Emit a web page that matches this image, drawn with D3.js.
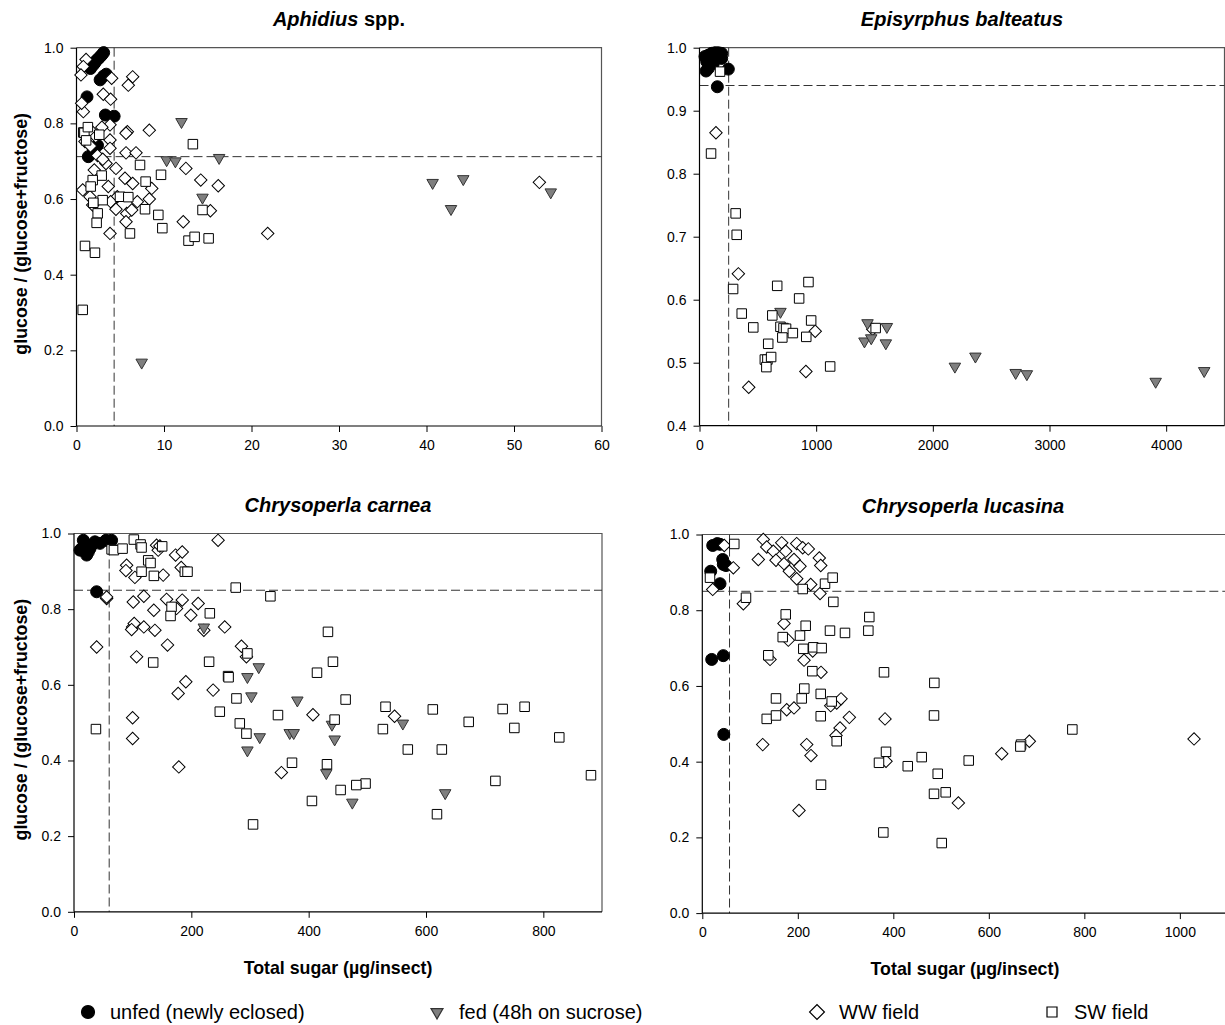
<!DOCTYPE html>
<html><head><meta charset="utf-8">
<script src="https://cdn.jsdelivr.net/npm/d3@7/dist/d3.min.js"></script>
<style>body{margin:0;background:#fff}svg{display:block}</style>
</head><body>
<svg id="chart" width="1225" height="1025"></svg>
<script>
// ---------------- DATA ----------------
const seriesNames = ["unfed (newly eclosed)", "fed (48h on sucrose)", "WW field", "SW field"];
const yAxisTitle = "glucose / (glucose+fructose)";
const xAxisTitle = "Total sugar (µg/insect)";

const xTicksAphidius = [0, 10, 20, 30, 40, 50, 60];
const yTicksAphidius = [0.0, 0.2, 0.4, 0.6, 0.8, 1.0];
const xTicksEpisyrphus = [0, 1000, 2000, 3000, 4000];
const yTicksEpisyrphus = [0.4, 0.5, 0.6, 0.7, 0.8, 0.9, 1.0];
const xTicksCarnea = [0, 200, 400, 600, 800];
const yTicksCarnea = [0.0, 0.2, 0.4, 0.6, 0.8, 1.0];
const xTicksLucasina = [0, 200, 400, 600, 800, 1000];
const yTicksLucasina = [0.0, 0.2, 0.4, 0.6, 0.8, 1.0];

// threshold lines [x, y]
const thresholdAphidius = [4.3, 0.712];
const thresholdEpisyrphus = [250, 0.940];
const thresholdCarnea = [60, 0.85];
const thresholdLucasina = [57, 0.85];

// ---- Aphidius spp. ----
const aphidiusUnfed = [[1.6,0.945],[1.9,0.954],[2.1,0.96],[2.3,0.967],[2.5,0.971],[2.7,0.976],[2.9,0.981],[3.1,0.987],[3.4,0.930],[3.1,0.925],[2.7,0.915],[1.2,0.870],[3.3,0.822],[4.3,0.819],[1.35,0.712],[1.9,0.733],[2.4,0.742]];
const aphidiusFed = [[12.0,0.804],[10.3,0.703],[11.3,0.700],[16.3,0.709],[14.4,0.604],[7.45,0.168],[40.7,0.643],[44.2,0.653],[42.8,0.574],[54.2,0.618]];
const aphidiusWW = [[1.09,0.969],[0.78,0.95],[0.51,0.928],[4.02,0.919],[6.42,0.923],[5.92,0.901],[3.06,0.877],[3.9,0.864],[0.78,0.831],[0.59,0.853],[3.83,0.796],[5.81,0.778],[8.32,0.782],[5.66,0.774],[0.97,0.752],[3.83,0.756],[5.66,0.722],[6.8,0.722],[3.83,0.734],[3.37,0.694],[4.51,0.681],[2.03,0.677],[12.5,0.681],[14.2,0.650],[16.2,0.635],[5.54,0.655],[6.42,0.641],[8.6,0.628],[8.32,0.600],[0.71,0.624],[1.54,0.606],[3.63,0.633],[4.66,0.606],[3.9,0.593],[1.85,0.584],[6.95,0.593],[4.51,0.573],[5.74,0.562],[6.31,0.571],[5.66,0.540],[12.2,0.540],[15.3,0.569],[3.83,0.509],[52.9,0.644],[21.85,0.509],[1.7,0.78],[2.2,0.765],[2.9,0.79],[1.6,0.74],[2.4,0.715],[3.0,0.705]];
const aphidiusSW = [[13.3,0.745],[7.26,0.690],[9.66,0.664],[2.88,0.662],[1.85,0.650],[7.9,0.646],[1.62,0.633],[2.99,0.597],[4.97,0.606],[5.92,0.605],[1.92,0.590],[2.42,0.562],[2.3,0.537],[7.83,0.573],[9.35,0.558],[14.4,0.571],[9.81,0.523],[6.11,0.509],[12.8,0.490],[13.5,0.500],[15.1,0.496],[0.97,0.476],[2.11,0.458],[0.71,0.307],[0.78,0.776],[0.9,0.775],[1.3,0.79],[1.1,0.755],[2.6,0.77]];

// ---- Episyrphus balteatus ----
const episyrphusUnfed = [[47,0.986],[75,0.988],[104,0.991],[133,0.992],[161,0.992],[190,0.991],[62,0.978],[90,0.981],[147,0.983],[56,0.963],[75,0.967],[118,0.975],[247,0.966],[153,0.938],[190,0.983]];
const episyrphusFed = [[694,0.581],[1440,0.563],[1414,0.534],[1472,0.539],[1606,0.557],[1597,0.531],[2189,0.494],[2365,0.510],[2710,0.484],[2806,0.482],[3910,0.470],[4326,0.487]];
const episyrphusWW = [[333,0.641],[422,0.461],[912,0.486],[992,0.550],[1485,0.553],[141,0.865]];
const episyrphusSW = [[288,0.617],[362,0.578],[461,0.556],[624,0.575],[666,0.622],[589,0.530],[560,0.505],[582,0.505],[614,0.509],[573,0.493],[694,0.557],[720,0.555],[742,0.554],[710,0.540],[800,0.547],[854,0.602],[934,0.628],[957,0.567],[915,0.541],[1120,0.494],[1510,0.555],[99,0.832],[176,0.962],[310,0.737],[319,0.703]];

// ---- Chrysoperla carnea ----
const carneaUnfed = [[13,0.960],[18.7,0.974],[24.4,0.951],[30.1,0.969],[21.6,0.943],[35.7,0.978],[44.3,0.974],[54.5,0.982],[64.1,0.982],[38.6,0.846],[15.9,0.982],[27.2,0.960],[10.2,0.956]];
const carneaFed = [[221.3,0.752],[314.9,0.647],[295.6,0.621],[302.4,0.570],[380.7,0.559],[367.7,0.473],[374.5,0.473],[316.6,0.462],[295.6,0.427],[439.7,0.495],[444.3,0.456],[430.1,0.367],[474.4,0.289],[560.5,0.498],[632.7,0.314]];
const carneaWW = [[55.6,0.828],[55.6,0.832],[38.6,0.700],[89.7,0.916],[88.5,0.902],[103.8,0.884],[101,0.819],[119,0.834],[99.9,0.753],[102.6,0.762],[98.2,0.746],[119,0.753],[137.9,0.744],[136,0.797],[106.7,0.674],[159.4,0.705],[140.7,0.969],[143.5,0.956],[146.4,0.967],[152,0.890],[157.8,0.826],[173.1,0.943],[184.5,0.951],[182.7,0.910],[174.8,0.802],[184.5,0.824],[199.1,0.784],[211.6,0.815],[221.3,0.744],[256.9,0.753],[245.6,0.982],[285.4,0.702],[293.9,0.674],[190.6,0.608],[177.5,0.577],[237.1,0.586],[99.9,0.513],[99.9,0.458],[178.7,0.383],[353.5,0.368],[407.3,0.521],[546.4,0.517]];
const carneaSW = [[64.1,0.958],[68,0.956],[82.8,0.960],[102,0.984],[113.5,0.971],[115.2,0.963],[126.5,0.929],[130.5,0.922],[115.2,0.899],[136.2,0.888],[150.3,0.966],[188.9,0.899],[193.5,0.899],[275.7,0.857],[334.8,0.834],[166.3,0.806],[164.6,0.782],[231.5,0.789],[135,0.659],[230.3,0.661],[262.6,0.623],[263.5,0.620],[295.6,0.683],[276.9,0.564],[248.5,0.529],[347.7,0.520],[282.6,0.498],[293.9,0.471],[414.2,0.632],[37.4,0.483],[371.6,0.394],[305.2,0.231],[405.6,0.293],[432.9,0.740],[441.4,0.661],[463,0.561],[531,0.542],[611.6,0.535],[730.7,0.536],[768.1,0.542],[444.3,0.508],[526.5,0.483],[672.8,0.502],[750.6,0.486],[827.2,0.461],[569,0.429],[627,0.429],[431.2,0.390],[881.2,0.361],[718.3,0.346],[497,0.339],[481.2,0.335],[454.5,0.322],[618.7,0.258]];

// ---- Chrysoperla lucasina ----
const lucasinaUnfed = [[21.8,0.971],[31.4,0.976],[37.1,0.974],[42.7,0.934],[44,0.921],[49.6,0.918],[17.6,0.903],[37.1,0.870],[19.7,0.670],[44,0.680],[45,0.472]];
const lucasinaFed = [];
const lucasinaWW = [[46,0.971],[65,0.912],[21.8,0.855],[85.9,0.817],[127.7,0.987],[117.3,0.934],[134.9,0.967],[148.7,0.956],[154.3,0.932],[166.3,0.978],[174.7,0.956],[171.1,0.923],[182.2,0.903],[197.7,0.976],[192,0.934],[204.6,0.916],[197.7,0.883],[210.3,0.965],[222,0.962],[227,0.868],[245,0.938],[248,0.918],[246.5,0.844],[171.1,0.765],[180.1,0.721],[141.8,0.670],[213,0.668],[231.2,0.692],[248.6,0.636],[176.8,0.537],[192,0.542],[268.9,0.548],[281.5,0.555],[290.5,0.566],[307.9,0.517],[288.4,0.489],[382.6,0.513],[280,0.469],[126.5,0.445],[218.6,0.445],[227.6,0.416],[202.5,0.271],[384.7,0.401],[536.2,0.291],[627,0.421],[684.8,0.454],[1029.7,0.460]];
const lucasinaSW = [[67,0.975],[16.1,0.886],[91.5,0.833],[210.3,0.856],[257,0.870],[273,0.886],[274.4,0.822],[174.7,0.789],[216.5,0.759],[168.4,0.729],[204.6,0.733],[267.4,0.746],[298.8,0.740],[349.7,0.782],[347.7,0.746],[138.2,0.681],[211.5,0.698],[232.5,0.702],[250,0.700],[230.4,0.639],[380.5,0.636],[213.6,0.593],[208.2,0.567],[154.3,0.567],[248,0.579],[271,0.559],[134.9,0.513],[154.3,0.522],[248,0.520],[485.9,0.608],[485.2,0.522],[281.5,0.454],[248.6,0.339],[379.1,0.213],[384.7,0.426],[370,0.397],[430.2,0.388],[459.5,0.412],[493,0.368],[485.2,0.315],[509.7,0.319],[501.4,0.185],[557.9,0.403],[667.5,0.445],[666,0.440],[774.9,0.485]];

// ---------------- LAYOUT ----------------
const panels = [
  {title:["Aphidius", " spp."], left:76.5, top:47.7, width:525, height:378.3, xDomain:[0,60], yDomain:[0,1],
   xTicks:xTicksAphidius, yTicks:yTicksAphidius, thr:thresholdAphidius, yLabel:true, xLabel:false,
   data:[aphidiusUnfed, aphidiusFed, aphidiusWW, aphidiusSW]},
  {title:["Episyrphus balteatus", ""], left:699.5, top:47.7, width:525, height:378, xDomain:[0,4500], yDomain:[0.4,1],
   xTicks:xTicksEpisyrphus, yTicks:yTicksEpisyrphus, thr:thresholdEpisyrphus, yLabel:false, xLabel:false,
   data:[episyrphusUnfed, episyrphusFed, episyrphusWW, episyrphusSW]},
  {title:["Chrysoperla carnea", ""], left:74, top:533.5, width:528, height:378.3, xDomain:[0,900], yDomain:[0,1],
   xTicks:xTicksCarnea, yTicks:yTicksCarnea, thr:thresholdCarnea, yLabel:true, xLabel:true,
   data:[carneaUnfed, carneaFed, carneaWW, carneaSW]},
  {title:["Chrysoperla lucasina", ""], left:702.3, top:534.5, width:525.3, height:378.6, xDomain:[0,1100], yDomain:[0,1],
   xTicks:xTicksLucasina, yTicks:yTicksLucasina, thr:thresholdLucasina, yLabel:false, xLabel:true,
   data:[lucasinaUnfed, lucasinaFed, lucasinaWW, lucasinaSW]}
];

const FONT = "'Liberation Sans', Arial, Helvetica, sans-serif";
const svg = d3.select("#chart");

const symCircle = d3.symbol().type(d3.symbolCircle).size(Math.PI*6*6);
const symTri = d3.symbol().type(d3.symbolTriangle).size(Math.sqrt(3)/4*11.5*11.5);
const symDiamond = d3.symbol().type(d3.symbolSquare).size(8.8*8.8);
const symSquare = d3.symbol().type(d3.symbolSquare).size(9.5*9.5);

const styles = [
  {path: symCircle(), rot: 0, fill:"#000", stroke:"#000"},
  {path: symTri(), rot: 180, fill:"#7f7f7f", stroke:"#333"},
  {path: symDiamond(), rot: 45, fill:"#fff", stroke:"#000"},
  {path: symSquare(), rot: 0, fill:"#fff", stroke:"#000"}
];
const drawOrder = [0, 2, 1, 3];

panels.forEach((p, pi) => {
  const g = svg.append("g");
  const x = d3.scaleLinear().domain(p.xDomain).range([p.left, p.left + p.width]);
  const y = d3.scaleLinear().domain(p.yDomain).range([p.top + p.height, p.top]);

  // frame (top & right)
  g.append("path")
    .attr("d", `M${p.left},${p.top}H${p.left+p.width}V${p.top+p.height}`)
    .attr("fill","none").attr("stroke","#555").attr("stroke-width",1.2);

  // threshold lines
  g.append("line").attr("x1", x(p.thr[0])).attr("x2", x(p.thr[0]))
    .attr("y1", p.top).attr("y2", p.top + p.height)
    .attr("stroke","#333").attr("stroke-width",1).attr("stroke-dasharray","9,4");
  g.append("line").attr("x1", p.left).attr("x2", p.left + p.width)
    .attr("y1", y(p.thr[1])).attr("y2", y(p.thr[1]))
    .attr("stroke","#333").attr("stroke-width",1).attr("stroke-dasharray","9,4");

  // axes
  const xAxis = d3.axisBottom(x).tickValues(p.xTicks).tickSize(6).tickPadding(8).tickFormat(d3.format("d"));
  const yAxis = d3.axisLeft(y).tickValues(p.yTicks).tickSize(6).tickPadding(7).tickFormat(d3.format(".1f"));
  const gx = g.append("g").attr("transform", `translate(0,${p.top + p.height})`).call(xAxis);
  const gy = g.append("g").attr("transform", `translate(${p.left},0)`).call(yAxis);
  [gx, gy].forEach(ax => {
    ax.select(".domain").attr("stroke","#000").attr("stroke-width",1.2);
    ax.selectAll(".tick line").attr("stroke","#000");
    ax.selectAll("text").attr("font-family", FONT).attr("font-size", 14).attr("fill","#000");
  });
  gx.select(".domain").attr("d", `M${p.left},0H${p.left+p.width}`);
  gy.select(".domain").attr("d", `M0,${p.top+p.height}V${p.top}`);

  // points
  drawOrder.forEach(si => {
    const st = styles[si];
    g.append("g").selectAll("path").data(p.data[si]).join("path")
      .attr("d", st.path)
      .attr("transform", d => `translate(${x(d[0])},${y(d[1])}) rotate(${st.rot})`)
      .attr("fill", st.fill).attr("stroke", st.stroke).attr("stroke-width", 1);
  });

  // title
  const t = g.append("text").attr("x", p.left + p.width/2 + (pi === 3 ? -2 : 0)).attr("y", p.top - 21.5)
    .attr("text-anchor","middle").attr("font-family", FONT).attr("font-size", 20).attr("font-weight","bold");
  t.append("tspan").attr("font-style","italic").text(p.title[0]);
  if (p.title[1]) t.append("tspan").text(p.title[1]);

  if (p.yLabel) {
    g.append("text").attr("transform", `translate(27,${p.top + p.height/2 - 3}) rotate(-90)`)
      .attr("text-anchor","middle").attr("font-family", FONT).attr("font-size", 17.8).attr("font-weight","bold")
      .text(yAxisTitle);
  }
  if (p.xLabel) {
    g.append("text").attr("x", p.left + p.width/2).attr("y", p.top + p.height + 62)
      .attr("text-anchor","middle").attr("font-family", FONT).attr("font-size", 17.8).attr("font-weight","bold")
      .text(xAxisTitle);
  }
});

// legend
const legendX = [88, 437, 817, 1052];
const legendSyms = [
  d3.symbol().type(d3.symbolCircle).size(Math.PI*6.5*6.5)(),
  d3.symbol().type(d3.symbolTriangle).size(Math.sqrt(3)/4*12*12)(),
  d3.symbol().type(d3.symbolSquare).size(10.5*10.5)(),
  d3.symbol().type(d3.symbolSquare).size(10*10)()
];
const lg = svg.append("g");
seriesNames.forEach((name, i) => {
  const st = styles[i];
  lg.append("path").attr("d", legendSyms[i])
    .attr("transform", `translate(${legendX[i]},1012) rotate(${st.rot})`)
    .attr("fill", st.fill).attr("stroke", st.stroke).attr("stroke-width", 1.2);
  lg.append("text").attr("x", legendX[i] + 22).attr("y", 1019)
    .attr("font-family", FONT).attr("font-size", 20)
    .text(name);
});
</script>
</body></html>
